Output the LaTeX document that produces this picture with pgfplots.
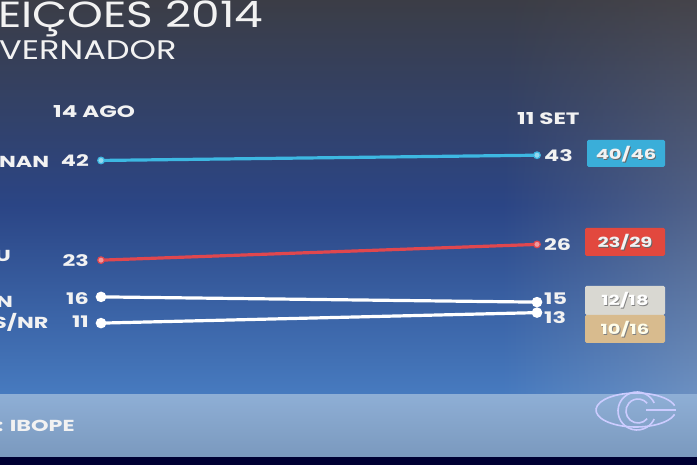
\documentclass[border=0pt]{standalone}
\usepackage{pgfplots}
\pgfplotsset{compat=1.18}
\usetikzlibrary{fadings}
\usepackage{fontspec}
\setmainfont{Poppins}
\newfontfamily\wf[FakeStretch=1.4]{Poppins}
\newfontfamily\tf[FakeStretch=1.25]{Poppins}
\definecolor{bgtop}{HTML}{3B3D46}
\definecolor{bgmid}{HTML}{2B4585}
\definecolor{bgbot}{HTML}{477BC0}
\definecolor{rtop}{HTML}{4E4A4E}
\definecolor{rbot}{HTML}{8CA3C4}
\definecolor{band}{HTML}{88AAD3}
\definecolor{cyanl}{HTML}{3DB8E2}
\definecolor{redl}{HTML}{E0474E}
\definecolor{boxred}{HTML}{E2483E}
\definecolor{boxcyan}{HTML}{3AAED9}
\definecolor{boxgray}{HTML}{D9D8D2}
\definecolor{boxtan}{HTML}{D8BB8E}
\definecolor{txt}{HTML}{F2F2F2}
\begin{document}
\begin{tikzpicture}
\useasboundingbox (0,0) rectangle (697bp,465bp);
\begin{scope}[x=1bp,y=-1bp,shift={(0,465bp)}]
  % background
  \shade[top color=bgtop, bottom color=bgmid] (0,0) rectangle (697,205);
  \shade[top color=bgmid, bottom color=bgbot] (0,205) rectangle (697,396);
  \shade[top color=rtop, bottom color=rbot, opacity=0.55, path fading=west] (500,0) rectangle (697,396);
  \shade[top color=band!95!white, bottom color=band!90!black] (0,395) rectangle (697,457);
  \fill[black!80!blue] (0,457) rectangle (697,465);
  % titles
  \node[anchor=base west, inner sep=0, text=txt, font=\tf\fontsize{36.5}{40}\selectfont] at (-2,28) {EIÇÕES 2014};
  \node[anchor=base west, inner sep=0, text=txt, font=\tf\fontsize{27}{30}\selectfont] at (-1,60) {VERNADOR};
  \node[anchor=base west, inner sep=0, text=txt, font=\wf\bfseries\fontsize{16.5}{18}\selectfont] at (53,118) {14 AGO};
  \node[anchor=base west, inner sep=0, text=txt, font=\wf\bfseries\fontsize{16.5}{18}\selectfont] at (517,125) {11 SET};
  % candidate names (cut off)
  \node[anchor=base west, inner sep=0, text=txt, font=\wf\bfseries\fontsize{16}{18}\selectfont] at (-1,168) {NAN};
  \node[anchor=base west, inner sep=0, text=txt, font=\wf\bfseries\fontsize{16}{18}\selectfont] at (-5,262) {U};
  \node[anchor=base west, inner sep=0, text=txt, font=\wf\bfseries\fontsize{16}{18}\selectfont] at (-4,308) {N};
  \node[anchor=base west, inner sep=0, text=txt, font=\wf\bfseries\fontsize{16}{18}\selectfont] at (-7,329) {S/NR};
  \node[anchor=base west, inner sep=0, text=txt, font=\wf\bfseries\fontsize{16}{18}\selectfont] at (-3,432) {: IBOPE};
  % range boxes
  \fill[boxcyan, rounded corners=1.5bp] (587,140) rectangle (665,167);
  \fill[boxred, rounded corners=1.5bp] (585,228) rectangle (665,256);
  \fill[boxgray, rounded corners=1.5bp] (585,286) rectangle (665,315);
  \fill[boxtan, rounded corners=1.5bp] (585,315) rectangle (665,343);
  \tikzset{bx/.style={inner sep=0, font=\wf\bfseries\fontsize{14}{16}\selectfont}}
  \node[bx, text=black!60] at (626.8,154.8) {40/46};
  \node[bx, text=txt] at (626,154) {40/46};
  \node[bx, text=black!60] at (625.8,242.8) {23/29};
  \node[bx, text=txt] at (625,242) {23/29};
  \node[bx, text=black!50] at (625.8,300.8) {12/18};
  \node[bx, text=white] at (625,300) {12/18};
  \node[bx, text=black!50] at (625.8,329.8) {10/16};
  \node[bx, text=white!92!yellow] at (625,329) {10/16};
  % logo
  \draw[white!80!blue, line width=1.6bp] ([shift={(15:40 and 17)}]636,410) arc[start angle=15, end angle=345, x radius=40, y radius=17];
  \draw[white!80!blue, line width=1.6bp] ([shift={(25:19)}]637,411) arc[start angle=25, end angle=335, radius=19];
  \draw[white!80!blue, line width=1.6bp] ([shift={(40:12)}]638,411) arc[start angle=40, end angle=320, radius=12];
  \draw[white!80!blue, line width=1.6bp] (646,410) -- (676,410);
\end{scope}
\begin{axis}[at={(0,0)}, anchor=south west, scale only axis,
  width=697bp, height=465bp,
  xmin=-0.2317, xmax=1.367, ymin=-16.04, ymax=72.58,
  hide axis, clip=false]
\addplot[cyanl, line width=3.2bp, mark=*, mark size=3.3bp,
  mark options={fill=cyanl!55!white, draw=cyanl, line width=1.2bp}] coordinates {(0,42) (1,43)};
\addplot[redl, line width=3.2bp, mark=*, mark size=3.3bp,
  mark options={fill=redl!55!white, draw=redl, line width=1.2bp}] coordinates {(0,23) (1,26)};
\addplot[white, line width=3.2bp, mark=*, mark size=3.6bp,
  mark options={fill=white, draw=white}] coordinates {(0,16) (1,15)};
\addplot[white, line width=3.2bp, mark=*, mark size=3.6bp,
  mark options={fill=white, draw=white}] coordinates {(0,11) (1,13)};
\tikzset{vl/.style={inner sep=0, text=txt, font=\wf\bfseries\fontsize{16}{18}\selectfont}}
\node[vl, anchor=east, xshift=-12bp] at (axis cs:0,42) {42};
\node[vl, anchor=east, xshift=-12bp] at (axis cs:0,23) {23};
\node[vl, anchor=east, xshift=-12bp, yshift=-2bp] at (axis cs:0,16) {16};
\node[vl, anchor=east, xshift=-12bp, yshift=1bp] at (axis cs:0,11) {11};
\node[vl, anchor=west, xshift=7bp] at (axis cs:1,43) {43};
\node[vl, anchor=west, xshift=7bp] at (axis cs:1,26) {26};
\node[vl, anchor=west, xshift=7bp, yshift=3bp] at (axis cs:1,15) {15};
\node[vl, anchor=west, xshift=7bp, yshift=-5bp] at (axis cs:1,13) {13};
\end{axis}
\end{tikzpicture}
\end{document}
